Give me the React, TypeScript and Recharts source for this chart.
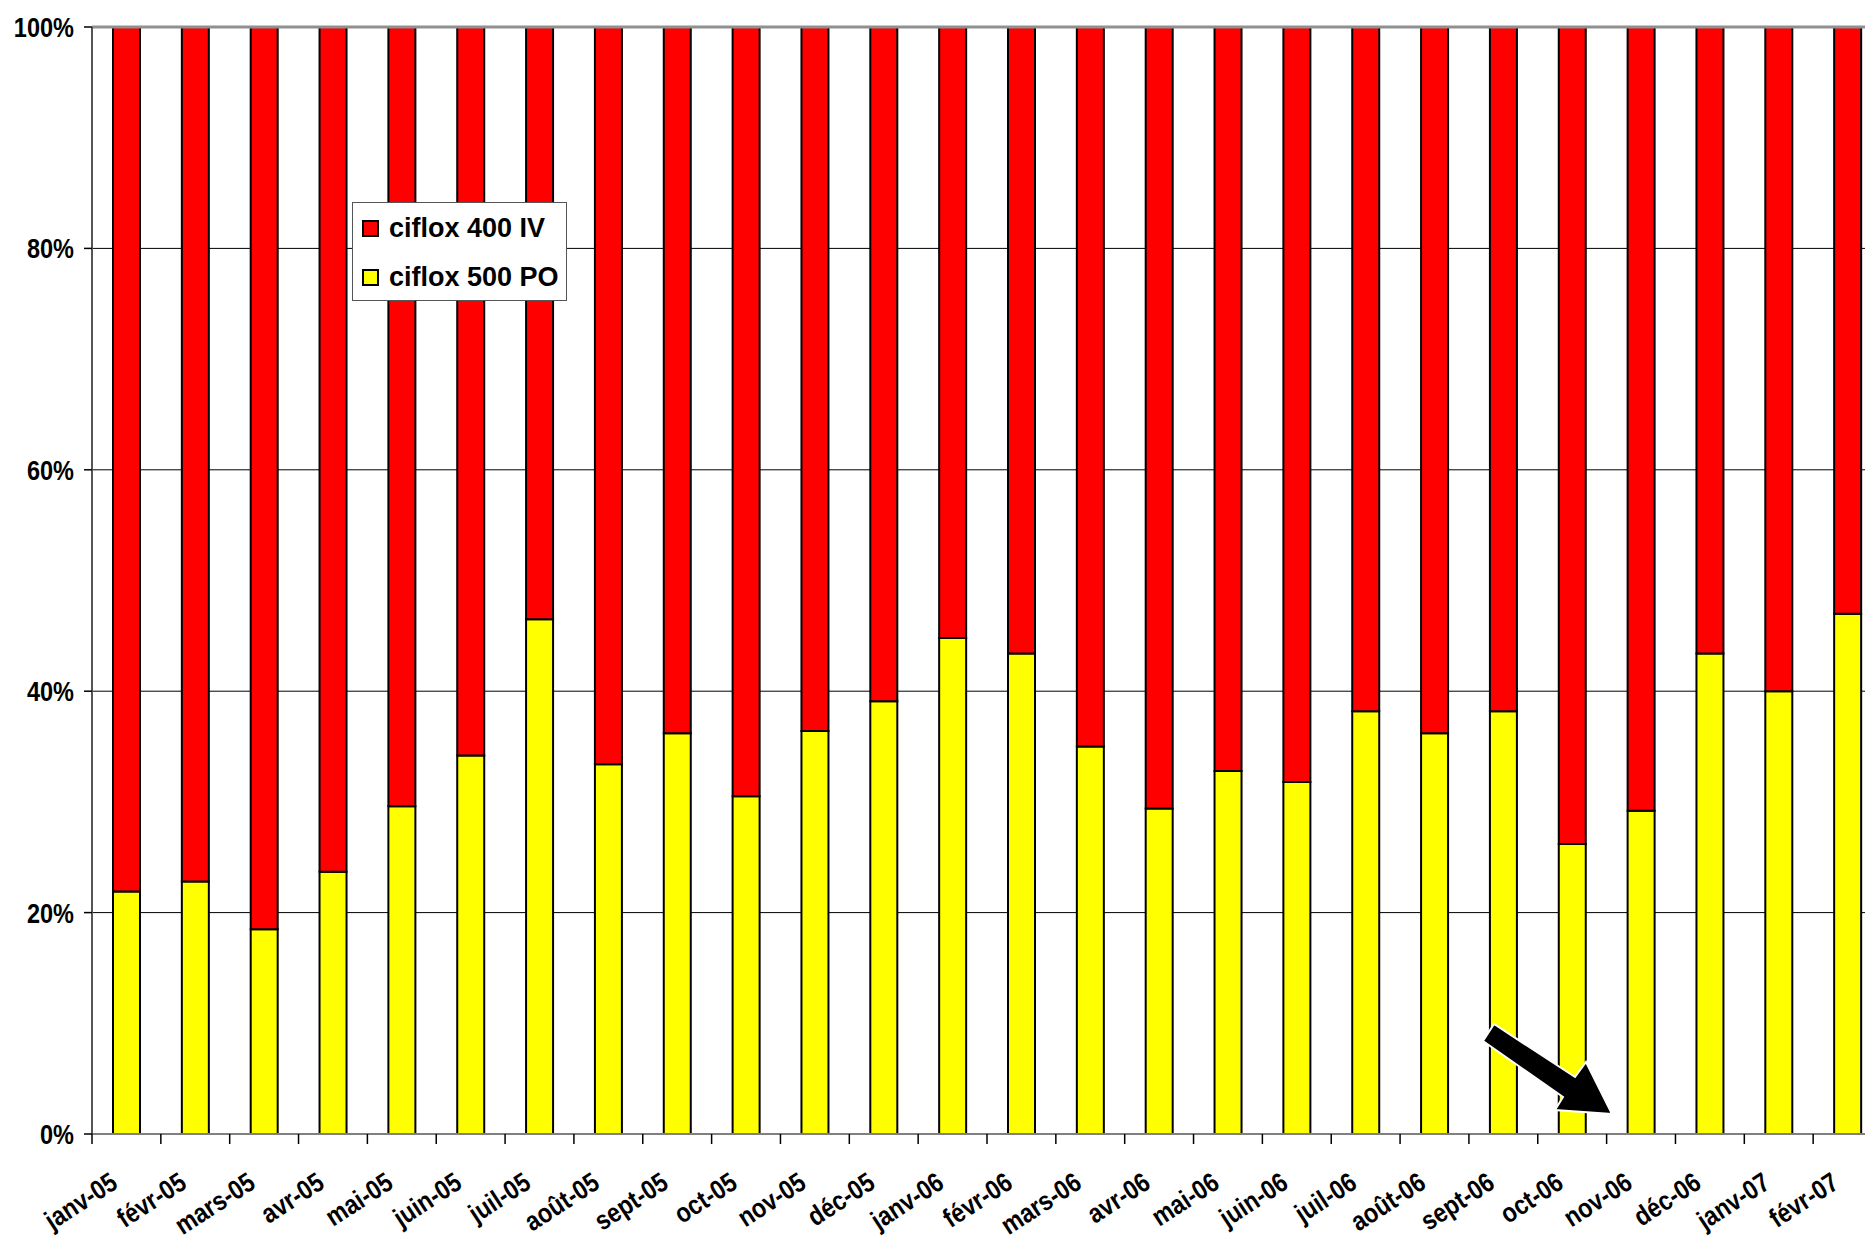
import React from 'react';
import { BarChart, Bar, XAxis, YAxis, CartesianGrid, ReferenceLine } from 'recharts';

const months = [
  'janv-05', 'févr-05', 'mars-05', 'avr-05', 'mai-05', 'juin-05', 'juil-05', 'août-05', 'sept-05', 'oct-05', 'nov-05', 'déc-05',
  'janv-06', 'févr-06', 'mars-06', 'avr-06', 'mai-06', 'juin-06', 'juil-06', 'août-06', 'sept-06', 'oct-06', 'nov-06', 'déc-06',
  'janv-07', 'févr-07',
];

const po500 = [
  21.9, 22.8, 18.5, 23.7, 29.6, 34.2, 46.5, 33.4, 36.2, 30.5, 36.4, 39.1,
  44.8, 43.4, 35.0, 29.4, 32.8, 31.8, 38.2, 36.2, 38.2, 26.2, 29.2, 43.4,
  40.0, 47.0,
];

const iv400 = po500.map((v) => Math.round((100 - v) * 10) / 10);

const yTicks = [0, 20, 40, 60, 80, 100];

const seriesNames = { iv: 'ciflox 400 IV', po: 'ciflox 500 PO' };

const data = months.map((m, i) => ({ month: m, po: po500[i], iv: iv400[i] }));

const FONT = '"Liberation Sans", Arial, sans-serif';

const XTick = (props: any) => {
  const { x, y, payload, width, visibleTicksCount } = props;
  const step = width / (visibleTicksCount || months.length);
  return (
    <g>
      <line x1={x - step / 2} y1={y} x2={x - step / 2} y2={y + 10} stroke="#000" strokeWidth={1.5} />
      <text
        x={0}
        y={0}
        transform={`translate(${x - 7},${y + 53}) rotate(-33) scale(0.86,1)`}
        textAnchor="end"
        fontFamily={FONT}
        fontWeight="bold"
        fontSize={27}
        fill="#000"
      >
        {payload.value}
      </text>
    </g>
  );
};

const YTick = (props: any) => {
  const { x, y, payload } = props;
  return (
    <text
      x={0}
      y={0}
      dy="0.36em"
      transform={`translate(${x},${y}) scale(0.84,1)`}
      textAnchor="end"
      fontFamily={FONT}
      fontWeight="bold"
      fontSize={28}
      fill="#000"
    >
      {`${payload.value}%`}
    </text>
  );
};

const LegendBox = () => (
  <div
    style={{
      position: 'absolute',
      left: 352,
      top: 202,
      width: 215,
      height: 99,
      border: '1.5px solid #555',
      background: '#fff',
      fontFamily: FONT,
      fontWeight: 'bold',
      fontSize: 27,
      boxSizing: 'border-box',
    }}
  >
    {[
      { name: seriesNames.iv, color: '#FF0000', top: 10 },
      { name: seriesNames.po, color: '#FFFF00', top: 59 },
    ].map((it) => (
      <div key={it.name} style={{ position: 'absolute', left: 9, top: it.top, display: 'flex', alignItems: 'center', height: 30, whiteSpace: 'nowrap' }}>
        <div style={{ width: 13, height: 13, background: it.color, border: '2px solid #000', marginRight: 10 }} />
        <span>{it.name}</span>
      </div>
    ))}
  </div>
);

export default function App() {
  return (
    <div style={{ position: 'fixed', left: 0, top: 0, width: 1865, height: 1239, overflow: 'hidden', background: '#fff' }}>
      <BarChart
        width={1900}
        height={1239}
        data={data}
        margin={{ top: 27, right: 18, bottom: 0, left: 0 }}
        barSize={27}
      >
        <CartesianGrid horizontal={true} vertical={false} stroke="#000" strokeWidth={1} />
        <XAxis
          dataKey="month"
          height={105}
          interval={0}
          tickLine={false}
          tickSize={0}
          tickMargin={0}
          axisLine={{ stroke: '#808080', strokeWidth: 2 }}
          tick={<XTick />}
        />
        <YAxis
          width={92}
          domain={[0, 100]}
          ticks={yTicks}
          interval={0}
          tickSize={8}
          tickMargin={10}
          tickLine={{ stroke: '#000', strokeWidth: 1.5 }}
          axisLine={{ stroke: '#555', strokeWidth: 2 }}
          tick={<YTick />}
        />
        <ReferenceLine y={100} stroke="#909090" strokeWidth={3} />
        <Bar dataKey="po" name={seriesNames.po} stackId="a" fill="#FFFF00" stroke="#000" strokeWidth={2} isAnimationActive={false} />
        <Bar dataKey="iv" name={seriesNames.iv} stackId="a" fill="#FF0000" stroke="#000" strokeWidth={2} isAnimationActive={false} />
      </BarChart>
      <LegendBox />
      <svg width={1865} height={1239} style={{ position: 'absolute', left: 0, top: 0, pointerEvents: 'none' }}>
        <polygon
          points="1494,1024 1483,1041 1563,1097 1555,1110 1612,1114 1586,1062 1575,1077"
          fill="#000"
          stroke="#fff"
          strokeWidth={2}
          strokeLinejoin="miter"
        />
      </svg>
    </div>
  );
}
